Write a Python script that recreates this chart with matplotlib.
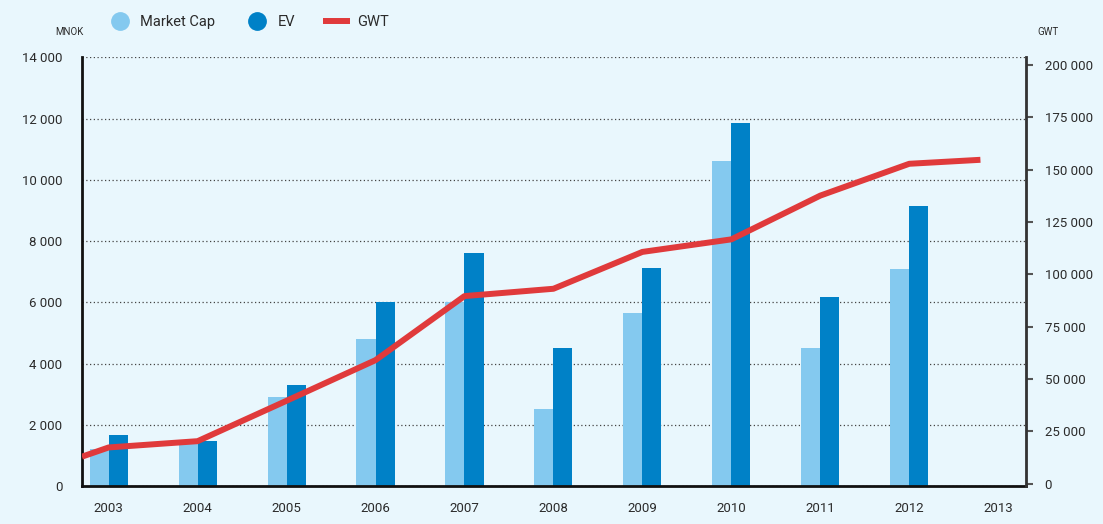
import numpy as np
import matplotlib.pyplot as plt
from matplotlib.lines import Line2D
from matplotlib.ticker import FuncFormatter

plt.rcParams['font.family'] = ['Roboto', 'DejaVu Sans']

years = np.arange(2003, 2014)
year_labels = [str(y) for y in years]

# MNOK, left axis (no bars for 2013)
market_cap = [1220, 1410, 2920, 4810, 6000, 2520, 5660, 10610, 4510, 7090, np.nan]
ev = [1680, 1480, 3300, 6010, 7610, 4520, 7120, 11850, 6180, 9150, np.nan]

# GWT, right axis; line runs in from the left edge and stops short of 2013
gwt_x = [2002.7, 2003, 2004, 2005, 2006, 2007, 2008, 2009, 2010, 2011, 2012, 2012.8]
gwt = [12900, 17300, 20300, 39600, 59000, 89600, 93100, 110700, 116700, 137600, 152800, 154700]

bg = '#e9f7fd'
c_mc = '#84c9ef'
c_ev = '#0081c7'
c_gwt = '#e03a3b'
txt = '#2b2b2b'


def space_thousands(v, pos):
    return '{:,.0f}'.format(v).replace(',', ' ')


fig = plt.figure(figsize=(11.03, 5.24), dpi=100, facecolor=bg)
ax = fig.add_axes([0.0743, 0.0719, 0.8557, 0.8189], facecolor=bg)

w = 0.214
ax.bar(years - w / 2, market_cap, width=w, color=c_mc, zorder=2)
ax.bar(years + w / 2, ev, width=w, color=c_ev, zorder=2)

ax.set_xlim(2002.70, 2013.31)
ax.set_ylim(0, 14000)
ax.set_yticks(np.arange(0, 14001, 2000))
ax.yaxis.set_major_formatter(FuncFormatter(space_thousands))
ax.set_xticks(years)
ax.set_xticklabels(year_labels)
ax.grid(axis='y', linestyle=(0, (1, 2)), color='#444444', linewidth=0.9)
ax.set_axisbelow(True)
ax.tick_params(axis='y', length=0, pad=14, labelsize=9.5, labelcolor=txt)
ax.tick_params(axis='x', length=0, pad=11, labelsize=9.5, labelcolor=txt)

ax.spines['top'].set_visible(False)
ax.spines['left'].set_linewidth(2)
ax.spines['left'].set_color('#111111')
ax.spines['bottom'].set_linewidth(2)
ax.spines['bottom'].set_color('#111111')

ax2 = ax.twinx()
ax2.plot(gwt_x, gwt, color=c_gwt, linewidth=4.3, solid_capstyle='butt', zorder=3)
ax2.set_ylim(-1270, 203700)
ax2.set_yticks(np.arange(0, 200001, 25000))
ax2.yaxis.set_major_formatter(FuncFormatter(space_thousands))
ax2.tick_params(axis='y', length=5, width=1.5, color='#555555', pad=8.5,
                labelsize=9.5, labelcolor=txt)
ax2.spines['top'].set_visible(False)
ax2.spines['left'].set_visible(False)
ax2.spines['bottom'].set_visible(False)
ax2.spines['right'].set_linewidth(2)
ax2.spines['right'].set_color('#333333')

fig.text(0.0499, 0.939, 'MNOK', fontsize=7, color=txt, va='center')
fig.text(0.9405, 0.939, 'GWT', fontsize=7, color=txt, va='center')

handles = [
    Line2D([], [], marker='o', linestyle='none', markersize=12.5, color=c_mc),
    Line2D([], [], marker='o', linestyle='none', markersize=12.5, color=c_ev),
    Line2D([], [], color=c_gwt, linewidth=4.3, solid_capstyle='butt'),
]
fig.legend(handles, ['Market Cap', 'EV', 'GWT'], loc='center left',
           bbox_to_anchor=(0.0843, 0.958), ncol=3, frameon=False,
           fontsize=10.5, handlelength=1.85, handletextpad=0.5,
           columnspacing=1.9, labelcolor=txt)

fig.savefig('out.png', dpi=100, facecolor=bg)
